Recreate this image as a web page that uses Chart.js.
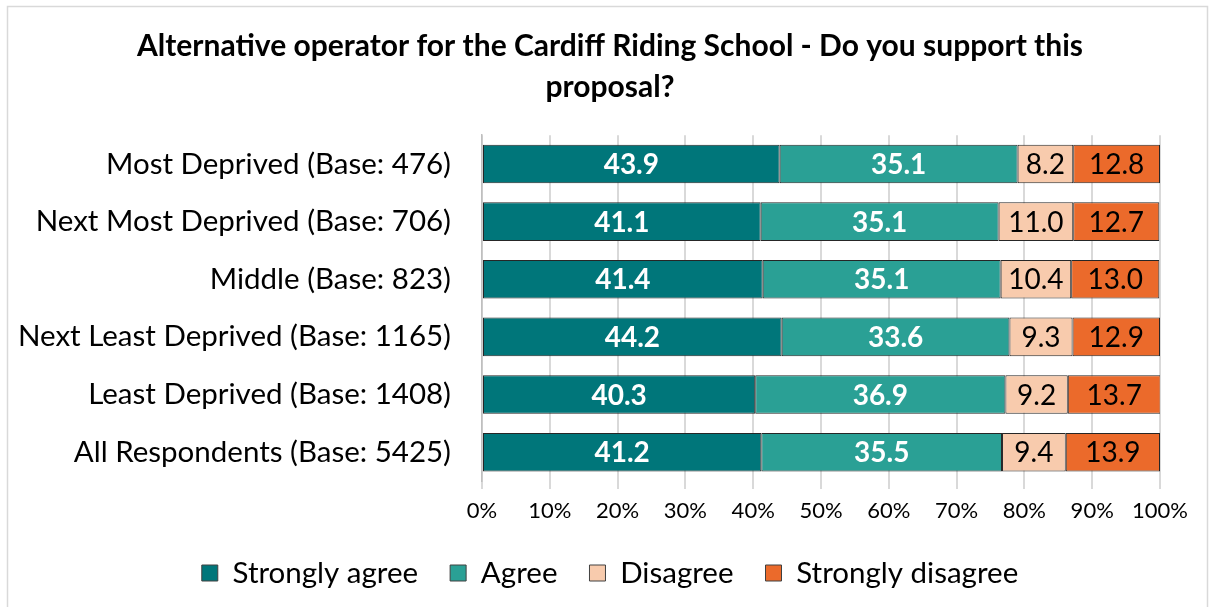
<!DOCTYPE html>
<html>
<head>
<meta charset="utf-8">
<script src="https://cdn.jsdelivr.net/npm/chart.js@4/dist/chart.umd.min.js"></script>
<style>
html,body{margin:0;padding:0;background:#fff;}
#wrap{position:relative;width:1213px;height:607px;}
</style>
</head>
<body>
<div id="wrap"><canvas id="c" width="1213" height="607"></canvas></div>
<script>
const categories = [
  "Most Deprived (Base: 476)",
  "Next Most Deprived (Base: 706)",
  "Middle (Base: 823)",
  "Next Least Deprived (Base: 1165)",
  "Least Deprived (Base: 1408)",
  "All Respondents (Base: 5425)"
];
const stronglyAgree    = [43.9, 41.1, 41.4, 44.2, 40.3, 41.2];
const agree            = [35.1, 35.1, 35.1, 33.6, 36.9, 35.5];
const disagree         = [8.2, 11.0, 10.4, 9.3, 9.2, 9.4];
const stronglyDisagree = [12.8, 12.7, 13.0, 12.9, 13.7, 13.9];
const seriesNames = ["Strongly agree", "Agree", "Disagree", "Strongly disagree"];
const titleLines = ["Alternative operator for the Cardiff Riding School - Do you support this", "proposal?"];

const FONT = "Lato, 'Open Sans', sans-serif";
const colors = ["#00767a", "#2aa095", "#f8cbad", "#eb6a2b"];
const labelColors = ["#ffffff", "#ffffff", "#000000", "#000000"];
const labelWeights = ["bold", "bold", "normal", "normal"];

const LEGEND_PAD = 32;
const LEGEND_H = 70.75;
const XAXIS_H = 45.25;
const CENTER_LEFT = 60;

const frame = {
  id: 'frame',
  beforeDraw(chart) {
    const ctx = chart.ctx;
    ctx.save();
    ctx.fillStyle = '#fff';
    ctx.fillRect(0, 0, chart.width, chart.height);
    ctx.strokeStyle = '#d9d9d9';
    ctx.lineWidth = 1.5;
    ctx.strokeRect(7.5, 6.5, chart.width - 13, chart.height - 5);
    ctx.restore();
  }
};

const layoutTweak = {
  id: 'layoutTweak',
  beforeLayout(chart) {
    const lg = chart.legend;
    if (lg && !lg._patched) {
      const f = lg.fit;
      lg.fit = function () { f.call(this); this.height = LEGEND_H; };
      lg._patched = true;
    }
  },
  afterLayout(chart) {
    if (chart.titleBlock) chart.titleBlock.left = CENTER_LEFT;
    if (chart.legend) chart.legend.left = CENTER_LEFT;
  }
};

const barLabels = {
  id: 'barLabels',
  afterDatasetsDraw(chart) {
    const ctx = chart.ctx;
    ctx.save();
    ctx.textAlign = 'center';
    ctx.textBaseline = 'middle';
    chart.data.datasets.forEach((ds, di) => {
      const meta = chart.getDatasetMeta(di);
      meta.data.forEach((bar, i) => {
        const v = ds.data[i];
        const cx = (bar.x + bar.base) / 2;
        ctx.font = labelWeights[di] + " 28px " + FONT;
        ctx.fillStyle = labelColors[di];
        ctx.fillText(v.toFixed(1), cx, bar.y + 1);
      });
    });
    ctx.restore();
  }
};

const data = {
  labels: categories,
  datasets: [stronglyAgree, agree, disagree, stronglyDisagree].map((arr, k) => ({
    label: seriesNames[k],
    data: arr,
    backgroundColor: colors[k],
    borderColor: '#262626',
    borderWidth: 1,
    borderSkipped: false,
    barPercentage: 0.67,
    categoryPercentage: 1.0
  }))
};

new Chart(document.getElementById('c'), {
  type: 'bar',
  data,
  plugins: [frame, layoutTweak, barLabels],
  options: {
    indexAxis: 'y',
    responsive: false,
    animation: false,
    layout: { padding: { left: 10, right: 53, top: 10, bottom: 10 } },
    plugins: {
      title: {
        display: true,
        text: titleLines,
        color: '#000',
        font: { family: FONT, size: 30, weight: 'bold', lineHeight: 1.37 },
        padding: { top: 16, bottom: 27 }
      },
      legend: {
        position: 'bottom',
        labels: {
          color: '#000',
          font: { family: FONT, size: 29.5 },
          boxWidth: 16,
          boxHeight: 16,
          padding: LEGEND_PAD,
          useBorderRadius: false,
          generateLabels(chart) {
            return chart.data.datasets.map((ds, i) => ({
              text: ds.label,
              fillStyle: colors[i],
              strokeStyle: '#404040',
              lineWidth: 1,
              datasetIndex: i,
              fontColor: '#000'
            }));
          }
        }
      },
      tooltip: { enabled: false }
    },
    scales: {
      x: {
        stacked: true,
        min: 0,
        max: 100,
        ticks: {
          stepSize: 10,
          color: '#000',
          font: { family: FONT, size: 22 },
          padding: 9,
          callback: v => v + '%'
        },
        grid: { color: '#d9d9d9', lineWidth: 2, drawTicks: true, tickLength: 8 },
        border: { display: false },
        afterFit(scale) { scale.height = XAXIS_H; }
      },
      y: {
        stacked: true,
        ticks: {
          color: '#000',
          font: { family: FONT, size: 29.5 },
          padding: 23
        },
        grid: { display: false },
        border: { display: true, color: '#bfbfbf', width: 1.5 },
        afterFit(scale) { scale.width = 472; }
      }
    }
  }
});
</script>
</body>
</html>
